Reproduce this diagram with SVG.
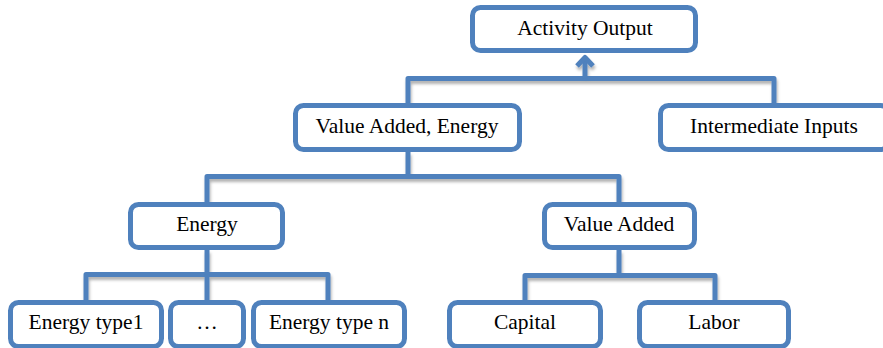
<svg xmlns="http://www.w3.org/2000/svg" width="883" height="348" viewBox="0 0 883 348">
  <style>
    .box { fill: #ffffff; stroke: #4f81bd; stroke-width: 5; }
    .lbl { font-family: "Liberation Serif", "Times New Roman", serif; font-size: 21.5px; fill: #000000; text-anchor: middle; }
    .wire { fill: none; stroke: #4f81bd; stroke-width: 5; stroke-linejoin: round; stroke-linecap: butt; }
  </style>
  <defs>
    <filter id="soft" x="-10%" y="-30%" width="120%" height="160%">
      <feDropShadow dx="1" dy="3" stdDeviation="1.5" flood-color="#000000" flood-opacity="0.3"/>
    </filter>
  </defs>
  <rect width="883" height="348" fill="#ffffff"/>

  <!-- tree connectors -->
  <g id="connectors" class="wire" filter="url(#soft)">
    <!-- level 1 -> top -->
    <path d="M408,103 V78.5 H774 V103"/>
    <path d="M585,78.5 V57"/>
    <polyline points="577,66 585,57.5 593,66"/>
    <!-- level 2 -->
    <path d="M408,152 V176.5 H207 V202"/>
    <path d="M408,176.5 H619 V202"/>
    <!-- energy branch -->
    <path d="M207,250 V274.5 H86 V300"/>
    <path d="M207,274.5 H328 V300"/>
    <path d="M207,274.5 V300"/>
    <!-- value added branch -->
    <path d="M619,250 V275.5 H525 V300"/>
    <path d="M619,275.5 H715 V300"/>
  </g>

  <g id="activity-output">
    <rect class="box" x="472.5" y="7.5" width="223" height="43" rx="8"/>
    <text class="lbl" x="585" y="34.5">Activity Output</text>
  </g>
  <g id="value-added-energy">
    <rect class="box" x="295.5" y="105.5" width="224" height="44" rx="8"/>
    <text class="lbl" x="407" y="132.5">Value Added, Energy</text>
  </g>
  <g id="intermediate-inputs">
    <rect class="box" x="660.5" y="105.5" width="228" height="44" rx="8"/>
    <text class="lbl" x="774" y="132.5">Intermediate Inputs</text>
  </g>
  <g id="energy">
    <rect class="box" x="130.5" y="204.5" width="152" height="43" rx="8"/>
    <text class="lbl" x="207" y="230.5">Energy</text>
  </g>
  <g id="value-added">
    <rect class="box" x="544.5" y="204.5" width="150" height="43" rx="8"/>
    <text class="lbl" x="619" y="230.5">Value Added</text>
  </g>
  <g id="energy-type-1">
    <rect class="box" x="10.5" y="302.5" width="151" height="44" rx="8"/>
    <text class="lbl" x="86" y="329">Energy type1</text>
  </g>
  <g id="energy-type-etc">
    <rect class="box" x="170.5" y="302.5" width="73" height="44" rx="8"/>
    <text class="lbl" x="207" y="329">…</text>
  </g>
  <g id="energy-type-n">
    <rect class="box" x="253.5" y="302.5" width="151" height="44" rx="8"/>
    <text class="lbl" x="329" y="329">Energy type n</text>
  </g>
  <g id="capital">
    <rect class="box" x="449.5" y="302.5" width="151" height="44" rx="8"/>
    <text class="lbl" x="525" y="329">Capital</text>
  </g>
  <g id="labor">
    <rect class="box" x="639.5" y="302.5" width="149" height="44" rx="8"/>
    <text class="lbl" x="714" y="329">Labor</text>
  </g>
</svg>
